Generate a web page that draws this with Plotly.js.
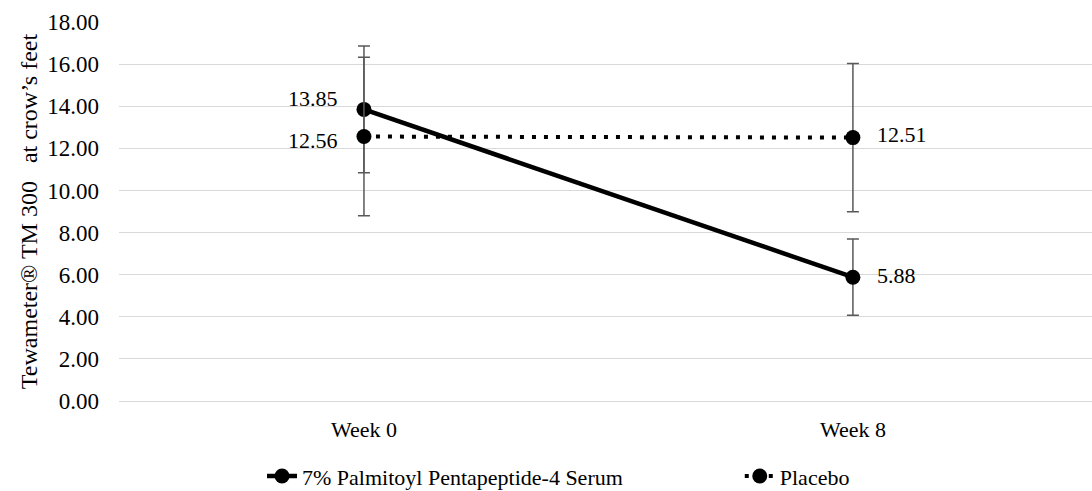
<!DOCTYPE html>
<html><head><meta charset="utf-8">
<script src="https://cdn.plot.ly/plotly-3.0.1.min.js"></script>
<style>html,body{margin:0;padding:0;background:#fff}</style>
</head><body>
<div id="chart" style="width:1092px;height:491px"></div>
<script>
var categories = ["Week 0", "Week 8"];
var serumName = "7% Palmitoyl Pentapeptide-4 Serum";
var serumValues = [13.85, 5.88];
var serumErrors = [3.01, 1.81];
var placeboName = "Placebo";
var placeboValues = [12.56, 12.51];
var placeboErrors = [3.76, 3.52];
var yTicks = [0, 2, 4, 6, 8, 10, 12, 14, 16, 18];

var xIdx = categories.map(function(c, i){ return i; });
var font = "Liberation Serif";

function trace(name, vals, errs, dash, width, legendId){
  return {
    x: xIdx, y: vals, name: name, type: "scatter", mode: "lines+markers",
    line: {color: "#000", width: width, dash: dash},
    marker: {color: "#000", size: 15},
    error_y: {type: "data", array: errs, visible: true, color: "#595959", thickness: 1.5, width: 6},
    cliponaxis: false, legend: legendId
  };
}
var serum = trace(serumName, serumValues, serumErrors, "solid", 4.5, "legend");
var placebo = trace(placeboName, placeboValues, placeboErrors, "4px,8px", 4, "legend2");

var annotations = [];
[[serumValues, [11, 2]], [placeboValues, [-4, 3]]].forEach(function(pair){
  var vals = pair[0], ys = pair[1];
  vals.forEach(function(v, i){
    annotations.push({x: xIdx[i], y: v, text: v.toFixed(2), showarrow: false,
      xanchor: i === 0 ? "right" : "left", xshift: i === 0 ? -24 : 22, yshift: ys[i],
      font: {family: font, size: 22, color: "#000"}});
  });
});

var legendFont = {family: font, size: 22, color: "#000"};
var layout = {
  width: 1092, height: 491,
  margin: {l: 119, r: 0, t: 22, b: 90},
  paper_bgcolor: "#fff", plot_bgcolor: "#fff",
  font: {family: font, size: 22, color: "#000"},
  showlegend: true,
  legend: {orientation: "h", x: 0.147, xanchor: "left", yref: "container", y: 0.03, yanchor: "middle", font: legendFont},
  legend2: {orientation: "h", x: 0.638, xanchor: "left", yref: "container", y: 0.03, yanchor: "middle", font: legendFont},
  annotations: annotations,
  xaxis: {range: [-0.501, 1.489], tickvals: xIdx, ticktext: categories, showgrid: false,
          zeroline: false, showline: false, ticks: "", ticklabelstandoff: 13,
          tickfont: {family: font, size: 22, color: "#000"}, fixedrange: true},
  yaxis: {range: [0, 18], tickvals: yTicks, ticktext: yTicks.map(function(v){ return v.toFixed(2); }),
          showgrid: true, gridcolor: "#d9d9d9", gridwidth: 1, zeroline: true, zerolinecolor: "#d9d9d9", zerolinewidth: 1,
          showline: false, ticks: "", ticklabelstandoff: 19,
          tickfont: {family: font, size: 23, color: "#000"},
          title: {text: "Tewameter® TM 300\u00a0\u00a0\u00a0at crow’s feet", font: {family: font, size: 24, color: "#000"}, standoff: 2}}
};
Plotly.newPlot("chart", [serum, placebo], layout, {displayModeBar: false, staticPlot: true});
</script>
</body></html>
